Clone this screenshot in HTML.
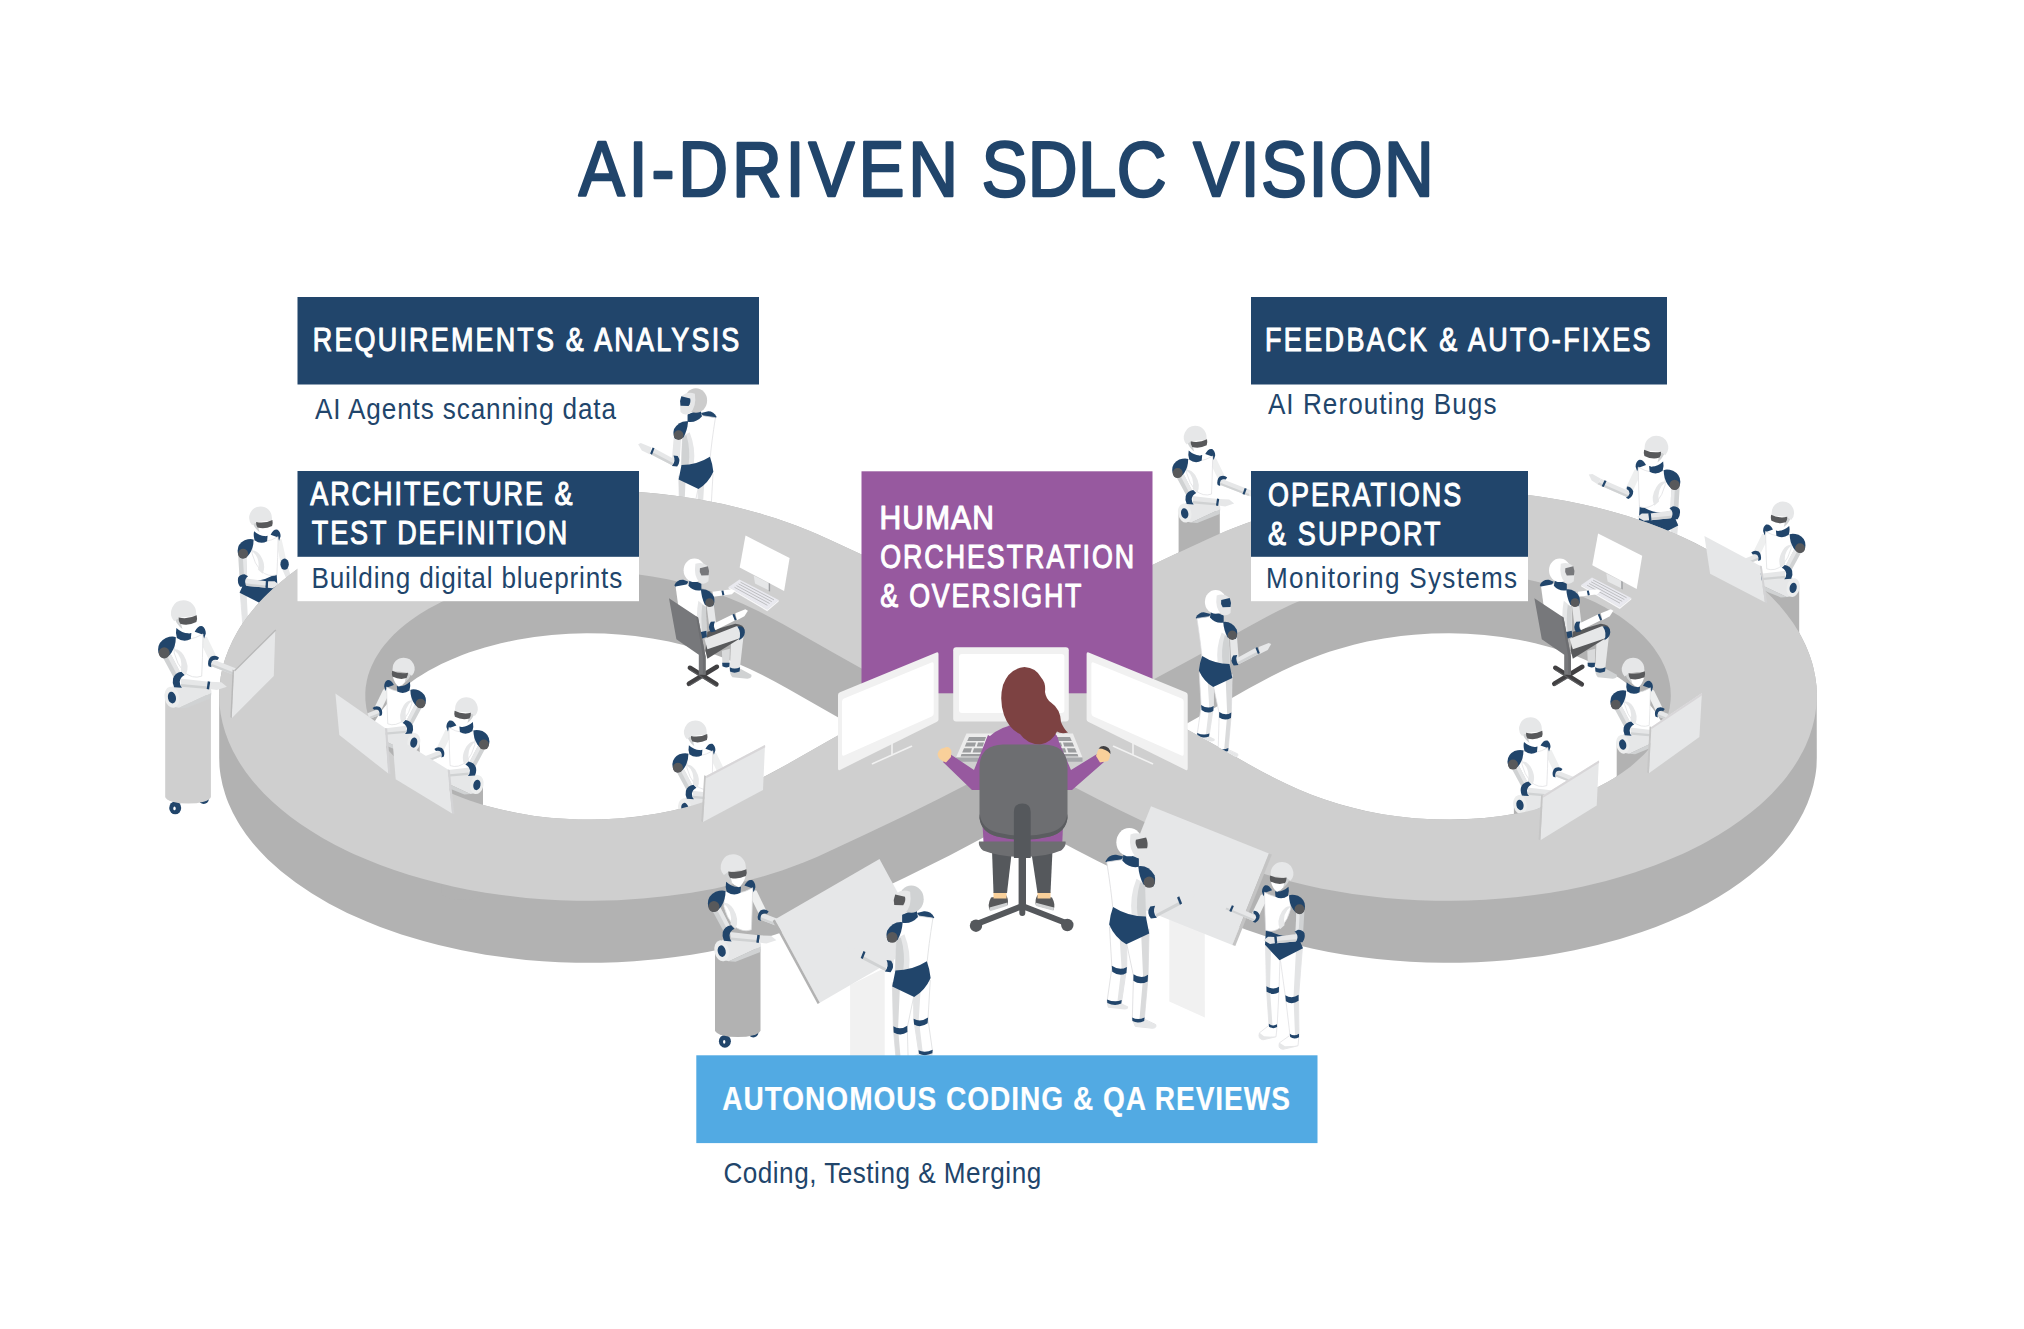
<!DOCTYPE html><html lang="en"><head><meta charset="utf-8"><title>AI-Driven SDLC Vision</title>
<style>html,body{margin:0;padding:0;background:#fff}svg{display:block}text{font-family:"Liberation Sans",Arial,sans-serif}</style></head><body>
<svg width="2024" height="1329" viewBox="0 0 2024 1329">
<rect width="2024" height="1329" fill="#fff"/>
<defs>
<!-- standing robot, 3/4 back view, facing right. origin = head centre -->
<g id="rsBody">
  <!-- far leg -->
  <path d="M-18.5,70 L-4,80 L-4.2,104 L-8.5,133 L-9,137 L-19.5,137 L-20.5,132 L-16.5,104 Z" fill="#fff" stroke="#dcdddf" stroke-width=".7" stroke-linejoin="round"/>
  <path d="M-10,80 L-4,80 L-4.2,104 L-8.5,133 L-12,133 L-8.5,104 Z" fill="#e3e4e5"/>
  <path d="M-16.6,102.5 Q-10,107 -4,103.5 L-4.4,108.5 Q-10,112 -16.2,107.5 Z" fill="#21456b"/>
  <!-- near leg -->
  <path d="M-5,80 L14.5,72 L13.6,112 L10.5,147 L20,151.5 Q21,154.5 17,154.5 L3,153 L0.5,147 L1.5,111 Z" fill="#fff" stroke="#dcdddf" stroke-width=".7" stroke-linejoin="round"/>
  <path d="M8,78 L14.5,72 L13.6,112 L10.5,147 L6.5,147 L9.5,112 Z" fill="#d9dadb"/>
  <path d="M1.5,109.5 Q8,114 13.6,110 L13.3,115.5 Q7,119 1.4,115 Z" fill="#21456b"/>
  <path d="M1,148 L10.5,147.5 L20,151.5 Q21,154.5 17,154.5 L3,153 Z" fill="#e6e7e8"/>
  <path d="M-20.3,133 L-9,133.5 L-3,136.5 Q-2.5,139 -6,139 L-19.5,137.5 Z" fill="#e6e7e8"/>
  <path d="M0.4,145.5 Q5,148 10.7,145.5 L10.4,148.5 Q5,151 0.6,148.6 Z" fill="#21456b"/>
  <path d="M-20.6,130.5 Q-14,133.5 -8.3,131 L-8.7,134 Q-14,136.5 -20.3,133.6 Z" fill="#21456b"/>
  <!-- far shoulder -->
  <path d="M-22,15.5 Q-19,9.5 -13,10 L-7,11.5 L-10,16 L-20,17 Z" fill="#21456b"/>
  <!-- torso -->
  <path d="M-20.8,16 L-7,14 L6,19.5 L11,34 L12,63 L-15.5,57 Q-17,40 -20.8,16 Z" fill="#fff" stroke="#dcdddf" stroke-width=".7" stroke-linejoin="round"/>
  <path d="M4,30 Q-2,45 0,60.5 L12,63 L11,34 Z" fill="#e6e7e8"/>
  <path d="M7,33 Q3,47 5,61.5 L12,63 L11,34 Z" fill="#d0d2d3"/>
  <!-- pelvis -->
  <path d="M-15.5,53.5 Q-3,61.5 11.8,61.5 L14.6,75.5 L-4.5,84.5 Q-14,79 -18.8,68 Q-18,60 -15.5,53.5 Z" fill="#21456b"/>
  <!-- neck -->
  <path d="M-6.5,8 L6,13 L6,20 Q-2,21.5 -7.8,15 Z" fill="#21456b"/>
</g>
<g id="rsHead">
  <ellipse cx="-2" cy="-0.5" rx="10.8" ry="11.8" fill="currentColor"/>
  <path d="M-1,-7 Q6,-9.5 11.5,-5 L13.2,4 L12.8,10.5 Q9,14.5 4,12 Q-3,6 -1,-7 Z" fill="#e6e7e8"/>
  <path d="M3.5,-2.5 L12,-4.5 Q14,0 12.8,4.5 L5,4.8 Q2.5,1 3.5,-2.5 Z" style="fill:var(--v,#21456b)"/>
</g>
<g id="rsArm">
  <!-- near shoulder + arm extended forward -->
  <path d="M12,33 L19,31 L21,56 L13.5,57.5 Z" fill="#e6e7e8"/>
  <path d="M18.5,56 L38.5,45.2 L41,51.5 L20.5,62 Z" fill="#e6e7e8"/>
  <path d="M20,59.5 L40,49 L41,51.5 L20.5,62 Z" fill="#d0d2d3"/>
  <path d="M41,44.5 L51,40.5 L53.5,41.5 L50,47.5 L42,51.5 Z" fill="#e6e7e8"/>
  <path d="M37.8,45.5 L39.6,44.6 L42,50.6 L40.2,51.6 Z" fill="#21456b"/>
  <path d="M15.5,53 Q12,58 16,63 L21,62.5 Q17,58 19.5,52.5 Z" fill="#21456b"/>
  <path d="M5.5,19.5 Q14,18.5 19,27 Q20.5,32 18,36.5 L10,35 Q6,28 5.5,19.5 Z" fill="#21456b"/>
  <circle cx="14.6" cy="32.8" r="4.7" fill="#58595b"/>
</g>
<g id="rs"><use href="#rsBody"/><use href="#rsHead"/><use href="#rsArm"/></g>
<!-- front 3/4 torso robot facing right (pedestal type). origin = head centre -->
<g id="rpFarU">
  <path d="M16,21 L21,21.5 L30,40 L23.5,43.5 L17,30 Z" fill="#eeefef"/>
</g>
<g id="rpFarF">
  <path d="M25.5,41.5 L55,53 L53.5,59 L24,47.5 Z" fill="#e6e7e8"/>
  <path d="M24.5,45.5 L54,57 L53.5,59 L24,47.5 Z" fill="#d0d2d3"/>
  <path d="M55,53 L64,55.5 L66,58.5 L60,60.5 L53.5,59 Z" fill="#e6e7e8"/>
  <path d="M49.5,50.8 L51.5,51.6 L49.3,57.6 L47.3,56.8 Z" fill="#21456b"/>
  <path d="M24.5,39.5 Q29,37.5 32,40.5 L30.5,42.5 Q27.5,41.5 25.5,43.5 Q24,46 25,49 L22.5,48 Q21,43 24.5,39.5 Z" fill="#21456b"/>
</g>
<g id="rpFar"><use href="#rpFarU"/><use href="#rpFarF"/></g>
<g id="rpTorso">
  <!-- far shoulder -->
  <path d="M10,17 Q13,11 17,12 Q20,14 20,18.5 L18.5,23 L17,19.5 Z" fill="#21456b"/>
  <!-- torso -->
  <path d="M-8,22 Q4,27 17.5,19 L17,40 L16.3,57 Q8,60 0,53 Q-6,46 -8.5,36 Z" fill="#fff" stroke="#dcdddf" stroke-width=".7" stroke-linejoin="round"/>
  <path d="M-9,33 Q0,40 -2.5,52 L2,56 Q6,48 0,38 Q-4,32 -9,33 Z" fill="#e6e7e8"/>
  <!-- neck -->
  <path d="M-6.5,13.5 Q0,19.5 7,18 L6.5,23.5 Q0,27 -6,22.5 Q-7.5,18 -6.5,13.5 Z" fill="#21456b"/>
</g>
<g id="rpHead">
  <path d="M-5,6 Q-3,16 5,18.5 Q9,16 11,9 Z" fill="#fff"/>
  <path d="M-8,5 Q-6,11 -1,14.5 Q-3,9 -2,5 Z" fill="#d0d2d3"/>
  <path d="M0,-11.3 A11.3,11.3 0 0 1 11.3,0 L11.5,3 Q4,3 -4.5,4.5 L-8.5,7.5 A11.3,11.3 0 0 1 0,-11.3 Z" fill="currentColor"/>
  <path d="M-4.5,4.2 Q4,6 11.8,2.2 Q12.6,5.5 11.5,8.2 Q4,12 -3,9.8 Q-4.8,7 -4.5,4.2 Z" fill="#58595b"/>
</g>
<g id="rpNear">
  <!-- near upper arm, elbow, forearm across body, hand -->
  <path d="M-21,36 L-13.5,33.5 L-2,55.5 L-8,60 Z" fill="#d0d2d3"/>
  <path d="M-17,34.5 L-13.5,33.5 L-2,55.5 L-5,57.5 Z" fill="#e6e7e8"/>
  <path d="M-3,59 L22.5,62 L22,68.5 L-2,66.5 Z" fill="#e6e7e8"/>
  <path d="M-2.5,64 L22.2,66.2 L22,68.5 L-2,66.5 Z" fill="#d0d2d3"/>
  <path d="M24,62 L34,62.5 L39,66.5 L30,69.5 L23.5,68.5 Z" fill="#e6e7e8"/>
  <path d="M21.8,61.5 L24,62 L23,69 L20.8,68.5 Z" fill="#21456b"/>
  <path d="M-9.5,59 Q-8,54 -2,53 L1,56 Q-3,58 -3.5,62 Q-3.5,65.5 -1.5,67.5 L-8.5,67 Q-10.5,63 -9.5,59 Z" fill="#21456b"/>
  <path d="M-23,33 Q-23,26 -16,22.5 Q-10,20.5 -7,22 Q-7,30 -11,36 Q-14,40.5 -19,40.5 Q-23,38 -23,33 Z" fill="#21456b"/>
  <circle cx="-17.5" cy="36" r="5" fill="#58595b"/>
</g>
<g id="rpRoll">
  <path d="M-10,66 L22,66.5 Q25.5,68 25,72 L-4,85.5 L-12,84 Z" fill="#e6e7e8"/>
  <path d="M25,72 L-4,85.5 L2,86 L24.5,77 Z" fill="#d0d2d3"/>
  <ellipse cx="-10.5" cy="76" rx="6.6" ry="9.6" fill="#eceded" transform="rotate(-12 -10.5 76)"/>
  <ellipse cx="-10.5" cy="76.3" rx="3.6" ry="5.3" fill="#21456b" transform="rotate(-12 -10.5 76.3)"/>
</g>
<g id="rp"><use href="#rpFar"/><use href="#rpTorso"/><use href="#rpHead"/><use href="#rpRoll"/><use href="#rpNear"/></g>
<!-- legs + pelvis for front 3/4 standing robot facing right -->
<g id="rfLegs">
  <path d="M2,84 L16.5,71 L15.5,116 L13,152 L22.5,159.5 Q24.5,165.5 19,166.5 L6,163.5 L4.8,152 L3,117 Z" fill="#fff" stroke="#dcdddf" stroke-width=".7" stroke-linejoin="round"/>
  <path d="M11,76 L16.5,71 L15.5,116 L13,152 L9.5,152 L12,116 Z" fill="#e3e4e5"/>
  <path d="M6,163.5 L19,166.5 Q24.5,165.5 22.5,159.5 L18,163 Z" fill="#e6e7e8"/>
  <path d="M3,113.5 Q9,117 15.6,113 L15.4,118.5 Q9,122.5 3.1,119 Z" fill="#21456b"/>
  <path d="M5,151 Q9,153.5 13.2,150.5 L13,153.5 Q9,156 4.9,153.8 Z" fill="#21456b"/>
  <path d="M-20.5,73 L2,84 L-3.5,124 L-8,162 L2.5,169.5 Q4.5,175.5 -1,176 L-16,172.5 L-17,162 L-16.5,124 Z" fill="#fff" stroke="#dcdddf" stroke-width=".7" stroke-linejoin="round"/>
  <path d="M-20.5,73 L-14,76 L-11.5,124 L-13,162 L-17,162 L-16.5,124 Z" fill="#e3e4e5"/>
  <path d="M-16,172.5 L-1,176 Q4.5,175.5 2.5,169.5 L-3,173 Z" fill="#e6e7e8"/>
  <path d="M-16.6,121.5 Q-10,126 -3.3,122 L-3.9,128 Q-10,132 -16.6,127.5 Z" fill="#21456b"/>
  <path d="M-17,160.5 Q-12,163.5 -7.8,160.5 L-8.2,163.8 Q-12,166.5 -17,164 Z" fill="#21456b"/>
  <path d="M-14,61 Q0,66 16,55.5 L17,71.5 L2.5,87 L-21,75 Q-18,67 -14,61 Z" fill="#21456b"/>
</g>
<g id="rf"><use href="#rpFar"/><use href="#rfLegs"/><use href="#rpTorso"/><use href="#rpHead"/><use href="#rpNear"/></g>
<!-- chair-sitting robot facing right, origin = head centre -->
<g id="rc">
  <!-- chair base -->
  <g stroke="#414042" stroke-width="4.6" stroke-linecap="round"><path d="M-5.5,97 L21,113.5 M21.5,96 L-6.5,113"/></g>
  <path d="M-5.5,99 L21,115.5 M-6.5,115 L7,107" stroke="#6d6e71" stroke-width="1.2" fill="none" opacity=".6"/>
  <!-- far shin -->
  <path d="M26.5,80 L34.5,78 L34,93 L27,93 Z" fill="#d9dadb"/>
  <path d="M26.8,92 L34.2,92 L34,96 Q30,97.5 27,95.5 Z" fill="#21456b"/>
  <!-- near shin + foot -->
  <path d="M36,64 L48.5,62 L44.5,97.5 L34.5,97.5 Z" fill="#e6e7e8"/>
  <path d="M35,99 L45,98 L56,104 Q57,107.5 52,108 L37,106.5 Q34,103 35,99 Z" fill="#d0d2d3"/>
  <path d="M34.3,96.5 Q39,99 44.7,96.5 L44.2,100.8 Q39,103 34.6,100.8 Z" fill="#21456b"/>
  <!-- seat / far thigh dark -->
  <path d="M12,61 L40,53 Q49,53.5 49,60 L44,68 L12,88 L10,80 Z" fill="#58595b"/>
  <!-- near thigh -->
  <path d="M9,68 L41,55.5 Q47,56 47.5,61 Q47.5,66 43,68 L12,78.5 Z" fill="#e6e7e8"/>
  <path d="M42,55.6 Q49.5,55 49.5,61.5 Q49,67 43.5,69.5 Q46.5,62 42,55.6 Z" fill="#21456b"/>
  <!-- far shoulder, torso -->
  <path d="M-21,14.5 Q-18.5,8.5 -12,9 L-7,11 L-10,15.5 L-19.5,16.5 Z" fill="#21456b"/>
  <path d="M-19.8,15.6 L-5,12.9 L6.5,19.6 L10.5,36 L11,64 L4,68 L-17,36 Z" fill="#fff"/>
  <path d="M3,30 Q0,45 3,62 L11,64 L10.5,36 Z" fill="#e6e7e8"/>
  <path d="M7,34 Q5,47 7,63 L11,64 L10.5,36 Z" fill="#d0d2d3"/>
  <path d="M2,62 L11,60 L11.5,66 L4,69 Z" fill="#21456b"/>
  <!-- far forearm -->
  <path d="M17,21 L36,18.5 L40,20 L36.5,23.5 L18,26 Z" fill="#fff"/>
  <path d="M26,20 L28,19.7 L29,24.3 L27,24.6 Z" fill="#21456b"/>
  <!-- neck -->
  <path d="M-5.5,8 L6,13 L6,19.5 Q-2,21 -7,15 Z" fill="#21456b"/>
  <!-- head -->
  <ellipse cx="-1" cy="-0.5" rx="10.8" ry="11.8" fill="#fff"/>
  <path d="M0,-7 Q7,-9.5 12,-5 L13.5,4 L13,10.5 Q9,14.5 4.5,12 Q-2,6 0,-7 Z" fill="#e6e7e8"/>
  <path d="M4.5,-2.5 L12.5,-4.5 Q14.3,0 13.2,4.5 L6,4.8 Q3.5,1 4.5,-2.5 Z" fill="#77787b"/>
  <!-- near arm -->
  <path d="M11,33 L18,31 L21,55 L14,57 Z" fill="#e6e7e8"/>
  <path d="M18,53 L37.5,43.5 L40,49.5 L20,59.5 Z" fill="#fff"/>
  <path d="M40,42.5 L50,38.5 L52.5,40 L49,45.5 L41.5,49.5 Z" fill="#fff"/>
  <path d="M37,43.7 L38.8,42.9 L41.2,48.9 L39.4,49.8 Z" fill="#21456b"/>
  <path d="M15.5,51 Q11.5,56 15.5,61.5 L20.5,60.5 Q17,56.5 19.5,50.8 Z" fill="#21456b"/>
  <path d="M5.5,18.5 Q14,17.5 18.5,26 Q20,31 17.5,35.5 L9.5,34 Q6,27 5.5,18.5 Z" fill="#21456b"/>
  <circle cx="14.2" cy="31.8" r="4.4" fill="#58595b"/>
  <!-- chair back + post -->
  <path d="M-26.4,27.5 L2.7,46.7 L10.2,86 L10.2,104 L3.4,104 L3.4,84 L-19,68.4 Z" fill="#77787b"/>
  <path d="M2.7,46.7 L10.2,86 L10.2,104 L7.5,104 L7.5,86 L0.7,45.4 Z" fill="#6d6e71"/>
</g>
<!-- desk set: monitor + stand + keyboard. origin = monitor top-left -->
<g id="desk">
  <path d="M8.2,40 L23.7,47.8 L23.7,55 L9.5,48 Z" fill="#e6e7e8"/>
  <path d="M23.2,47 L24.6,47.7 L24.6,56 L23.2,55.3 Z" fill="#9b9d9f"/>
  <path d="M0,0 L44.1,22.3 L38.6,55.5 L-5.8,31.8 Z" fill="#fff"/>
  <path d="M-6.1,44 L33.2,64.4 L21.7,73.8 L-16.9,51.4 Z" fill="#e9e9ef"/>
  <path d="M-16.9,51.4 L21.7,73.8 L33.2,64.4 L33.2,66 L21.7,75.6 L-16.9,53 Z" fill="#f6f6f8"/>
  <g stroke="#b9babc" stroke-width="0.9" fill="none"><path d="M-5,46.6 L28.5,64.3 M-7,48.3 L26.3,66.1 M-9,50 L24.1,67.9 M-11,51.7 L21.9,69.7"/></g>
</g>
<g id="rpFarDown">
  <path d="M16,21 L21,21.5 L26,44 L20,46 L17,30 Z" fill="#eeefef"/>
  <path d="M21,50 L27,48 L32,64 L28,66 Z" fill="#e6e7e8"/>
  <ellipse cx="24" cy="46.5" rx="4.2" ry="5.6" fill="#21456b"/>
</g>

<g id="rfNear">
  <path d="M-22.5,36 L-14.5,34.5 L-13.5,60 L-21,61.5 Z" fill="#d0d2d3"/>
  <path d="M-18,35.3 L-14.5,34.5 L-13.5,60 L-16.5,60.6 Z" fill="#e6e7e8"/>
  <path d="M-16,60.5 L6,63.5 L5.5,70 L-16,68 Z" fill="#e6e7e8"/>
  <path d="M-16,65.6 L5.7,67.7 L5.5,70 L-16,68 Z" fill="#d0d2d3"/>
  <path d="M7.5,63.6 L14,63.5 L18.5,67 L12,70.6 L7,70 Z" fill="#e6e7e8"/>
  <path d="M5.3,63.3 L7.5,63.6 L7,70.3 L4.8,70 Z" fill="#21456b"/>
  <path d="M-22.5,60 Q-21,56.5 -16,56.5 L-12.5,58.5 Q-15.5,60.5 -15.5,64 Q-15.5,67 -13.5,69 L-20.5,69 Q-23.5,65 -22.5,60 Z" fill="#21456b"/>
  <path d="M-23,33 Q-23,26 -16,22.5 Q-10,20.5 -7,22 Q-7,30 -11,36 Q-14,40.5 -19,40.5 Q-23,38 -23,33 Z" fill="#21456b"/>
  <circle cx="-17.5" cy="36" r="5" fill="#58595b"/>
</g>
</defs>
<g id="L0">
<use href="#rs" transform="translate(693.8,401) scale(-1.040,1.040)" color="#cccccc"/>
<g transform="translate(260.6,517.7) scale(1.000,1.000)" color="#e6e7e8"><use href="#rpFarDown"/><use href="#rfLegs"/><use href="#rpTorso"/><use href="#rpHead"/><use href="#rfNear"/></g>
<path d="M1178.6,511.1 L1219.8,511.1 L1219.8,613.0 A20.6,7 0 0 1 1178.6,613.0 Z" fill="#b2b2b2"/><g transform="translate(1195.2,437.1) scale(1.000,1.000)" color="#e6e7e8"><use href="#rpFar"/><use href="#rpTorso"/><use href="#rpHead"/><use href="#rpRoll"/><use href="#rpNear"/></g>
<g transform="translate(1656.4,447.4) scale(-1.040,1.040)" color="#e6e7e8"><use href="#rpFarU"/><use href="#rpFarF" transform="rotate(-45 26.5 43.5)"/><use href="#rfLegs"/><use href="#rpTorso"/><use href="#rpHead"/><use href="#rfNear"/></g>
<g transform="translate(3565.6,0) scale(-1,1)"><path d="M1766.4,585.6 L1807.0,585.6 L1807.0,693.0 A20.3,7 0 0 1 1766.4,693.0 Z" fill="#b2b2b2"/></g><g transform="translate(1782.8,512.7) scale(-0.985,0.985)" color="#e6e7e8"><use href="#rpFar"/><use href="#rpTorso"/><use href="#rpHead"/><use href="#rpRoll"/><use href="#rpNear"/></g>
</g>
<path d="M276.6,585.5 267.9,593.4 260.0,601.6 256.2,605.7 249.3,614.2 246.1,618.4 240.2,627.1 237.5,631.5 232.7,640.4 228.6,649.4 225.2,658.5 223.8,663.1 221.5,672.3 220.7,676.9 219.5,686.1 219.2,695.4 219.2,757.4 219.5,766.7 220.0,771.3 220.7,776.0 222.6,785.2 225.2,794.3 226.8,798.9 228.6,803.4 232.7,812.4 237.5,821.3 240.2,825.7 246.1,834.4 252.7,842.9 256.2,847.1 260.0,851.3 267.9,859.4 281.1,871.3 295.7,882.6 311.6,893.3 328.8,903.5 347.2,912.9 366.7,921.6 380.2,927.0 401.4,934.5 423.4,941.1 438.5,945.1 461.7,950.3 485.5,954.7 509.8,958.1 526.1,959.9 542.6,961.2 559.3,962.2 575.9,962.7 601.0,962.7 617.6,962.2 634.2,961.2 659.0,959.0 675.3,957.1 691.4,954.7 707.3,951.9 723.0,948.7 738.4,945.1 753.5,941.2 775.5,934.6 789.7,929.7 803.5,924.4 823.1,916.1 857.9,900.0 905.7,877.3 949.5,855.4 987.2,835.4 1018.0,817.9 1033.1,826.7 1054.1,838.3 1075.7,849.8 1097.5,861.0 1146.5,885.1 1198.2,909.4 1225.8,921.7 1246.3,929.7 1267.7,936.9 1290.0,943.2 1313.0,948.7 1328.7,951.9 1344.6,954.7 1360.7,957.1 1377.0,959.0 1393.5,960.6 1410.1,961.8 1426.7,962.5 1443.4,962.8 1460.1,962.7 1476.7,962.2 1493.4,961.2 1509.9,959.9 1526.2,958.1 1542.5,955.9 1558.5,953.3 1574.3,950.3 1597.5,945.1 1620.0,939.0 1641.8,932.1 1655.8,927.0 1669.3,921.6 1688.8,912.9 1707.2,903.5 1718.8,896.8 1729.9,889.8 1740.3,882.6 1750.2,875.1 1763.8,863.4 1772.1,855.4 1776.0,851.3 1783.3,842.9 1789.9,834.4 1793.0,830.1 1798.5,821.3 1803.3,812.4 1807.4,803.4 1810.8,794.3 1813.4,785.2 1815.3,776.0 1816.0,771.3 1816.5,766.7 1816.8,757.4 1816.7,690.8 1816.5,686.1 1815.3,676.9 1813.4,667.7 1812.2,663.1 1809.2,653.9 1805.5,644.9 1801.0,635.9 1795.8,627.1 1789.9,618.4 1783.3,609.9 1776.0,601.6 1768.1,593.4 1754.9,581.6 1745.3,574.0 1735.2,566.6 1724.4,559.5 1707.2,549.4 1695.1,543.0 1682.4,536.9 1662.6,528.5 1648.8,523.2 1627.4,516.0 1612.6,511.7 1597.5,507.7 1582.1,504.2 1566.4,501.0 1542.5,496.9 1526.2,494.8 1509.9,493.0 1493.4,491.6 1476.7,490.7 1460.1,490.1 1435.0,490.1 1418.4,490.7 1401.8,491.6 1385.3,493.0 1368.9,494.7 1352.6,496.9 1336.6,499.5 1313.0,504.1 1297.6,507.7 1282.5,511.6 1260.5,518.3 1246.3,523.2 1232.5,528.4 1212.9,536.7 1178.1,552.8 1130.3,575.6 1086.5,597.4 1048.8,617.4 1018.0,634.9 997.7,623.2 971.2,608.8 944.0,594.6 916.6,580.9 878.8,562.6 832.9,541.2 816.9,534.0 796.7,525.7 775.5,518.3 760.9,513.8 738.4,507.7 723.0,504.1 699.4,499.5 675.3,495.8 659.0,493.8 634.2,491.6 609.3,490.3 584.3,490.0 559.3,490.7 534.4,492.2 509.8,494.8 493.5,496.9 477.5,499.5 453.9,504.2 430.9,509.7 408.6,516.0 387.2,523.2 366.7,531.2 347.2,539.9 328.8,549.4 311.6,559.5 300.8,566.6 290.7,574.0Z" fill="#b2b2b2"/>
<path d="M372.3,726.4 375.0,731.7 377.8,736.4 380.8,741.0 384.2,745.5 388.0,750.0 392.0,754.4 396.4,758.6 401.0,762.8 405.9,766.9 411.2,770.8 416.7,774.7 422.5,778.4 428.5,782.0 438.0,787.1 451.5,793.5 462.2,797.8 469.6,800.5 484.9,805.4 500.9,809.6 517.4,813.1 534.3,815.9 551.6,817.9 569.2,819.1 578.0,819.4 591.2,819.6 604.5,819.3 622.0,818.2 639.4,816.3 656.4,813.7 673.0,810.4 687.5,806.8 702.1,802.5 715.8,797.9 728.9,793.0 741.6,787.6 754.0,781.8 766.4,775.6 787.4,764.2 833.0,738.2 854.3,726.4 833.0,714.6 787.4,688.6 774.7,681.6 762.3,675.1 749.9,669.0 737.4,663.4 724.6,658.2 711.3,653.3 697.3,648.9 682.3,644.7 668.9,641.6 652.2,638.4 635.1,636.0 622.0,634.7 604.5,633.6 586.8,633.3 569.2,633.7 551.6,635.0 534.3,637.0 517.4,639.7 500.9,643.2 484.9,647.4 469.6,652.3 462.2,655.0 451.5,659.4 441.3,664.1 434.8,667.4 428.5,670.8 422.5,674.4 416.7,678.1 411.2,682.0 405.9,686.0 401.0,690.0 396.4,694.2 392.0,698.5 388.0,702.8 382.5,709.6 379.3,714.1 375.0,721.1Z" fill="#fff"/>
<path d="M1181.7,726.4 1203.0,738.2 1248.6,764.2 1261.3,771.2 1273.7,777.7 1286.1,783.8 1298.6,789.5 1311.4,794.7 1324.7,799.5 1338.7,804.0 1353.7,808.1 1367.1,811.3 1383.8,814.4 1396.6,816.3 1414.0,818.2 1431.5,819.3 1449.2,819.6 1466.8,819.1 1484.4,817.9 1501.7,815.9 1518.6,813.1 1535.1,809.6 1543.2,807.6 1555.0,804.2 1570.1,799.2 1584.5,793.5 1598.0,787.1 1607.5,782.0 1613.5,778.4 1619.3,774.7 1624.8,770.8 1630.1,766.9 1635.0,762.8 1639.6,758.6 1644.0,754.4 1648.0,750.0 1651.8,745.5 1655.2,741.0 1658.2,736.4 1661.0,731.7 1663.7,726.4 1661.0,721.1 1658.2,716.4 1655.2,711.8 1651.8,707.3 1648.0,702.8 1644.0,698.5 1639.6,694.2 1635.0,690.0 1630.1,686.0 1624.8,682.0 1619.3,678.1 1613.5,674.4 1607.5,670.8 1601.2,667.4 1594.7,664.1 1584.5,659.4 1573.8,655.0 1566.4,652.3 1551.1,647.4 1535.1,643.2 1518.6,639.7 1501.7,637.0 1484.4,635.0 1466.8,633.7 1449.2,633.3 1431.5,633.6 1414.0,634.7 1400.9,636.0 1383.8,638.4 1367.1,641.6 1353.7,644.7 1338.7,648.9 1329.3,651.8 1320.2,654.9 1307.1,659.9 1294.4,665.2 1282.0,671.0 1269.6,677.2 1248.6,688.6 1203.0,714.6Z" fill="#fff"/>
<g id="L2">
<g transform="translate(807.2,0) scale(-1,1)"><path d="M387.5,740.4 L427.5,740.4 L427.5,853.0 A20.0,7 0 0 1 387.5,853.0 Z" fill="#b2b2b2"/></g><g transform="translate(403.6,668.6) scale(-0.970,0.970)" color="#e6e7e8"><use href="#rpFar"/><use href="#rpTorso"/><use href="#rpHead"/><use href="#rpRoll"/><use href="#rpNear"/></g>
<g transform="translate(932.8,0) scale(-1,1)"><path d="M449.8,782.6 L491.0,782.6 L491.0,893.0 A20.6,7 0 0 1 449.8,893.0 Z" fill="#b2b2b2"/></g><g transform="translate(466.4,708.6) scale(-1.000,1.000)" color="#e6e7e8"><use href="#rpFar"/><use href="#rpTorso"/><use href="#rpHead"/><use href="#rpRoll"/><use href="#rpNear"/></g>
<path d="M678.8,805.8 L720.0,805.8 L720.0,893.0 A20.6,7 0 0 1 678.8,893.0 Z" fill="#b2b2b2"/><g transform="translate(695.4,731.8) scale(1.000,1.000)" color="#e6e7e8"><use href="#rpFar"/><use href="#rpTorso"/><use href="#rpHead"/><use href="#rpRoll"/><use href="#rpNear"/></g>
<path d="M1616.7,742.3 L1657.5,742.3 L1657.5,853.0 A20.4,7 0 0 1 1616.7,853.0 Z" fill="#b2b2b2"/><g transform="translate(1633.1,669) scale(0.990,0.990)" color="#e6e7e8"><use href="#rpFar"/><use href="#rpTorso"/><use href="#rpHead"/><use href="#rpRoll"/><use href="#rpNear"/></g>
<path d="M1513.9,802.6 L1555.1,802.6 L1555.1,893.0 A20.6,7 0 0 1 1513.9,893.0 Z" fill="#b2b2b2"/><g transform="translate(1530.5,728.6) scale(1.000,1.000)" color="#e6e7e8"><use href="#rpFar"/><use href="#rpTorso"/><use href="#rpHead"/><use href="#rpRoll"/><use href="#rpNear"/></g>
</g>
<path d="M1018.0,634.9 1002.9,626.2 987.2,617.4 954.9,600.2 916.6,580.9 873.5,560.1 828.1,539.1 810.2,531.1 789.7,523.2 775.5,518.3 760.9,513.8 738.4,507.7 723.0,504.1 707.3,500.9 691.4,498.1 675.3,495.8 650.7,493.0 625.9,491.1 609.3,490.3 592.6,490.0 575.9,490.1 559.3,490.7 534.4,492.2 517.9,493.8 501.6,495.8 485.5,498.2 469.6,501.0 453.9,504.2 438.5,507.7 423.4,511.7 401.4,518.3 387.2,523.2 373.4,528.5 360.1,534.0 347.2,539.9 334.8,546.2 322.9,552.7 311.6,559.5 300.8,566.6 290.7,574.0 281.1,581.6 272.2,589.4 263.9,597.5 256.2,605.7 249.3,614.2 243.0,622.8 237.5,631.5 232.7,640.4 228.6,649.4 225.2,658.5 222.6,667.7 220.7,676.9 219.5,686.1 219.2,695.4 219.5,704.7 220.7,714.0 222.6,723.2 225.2,732.3 228.6,741.4 232.7,750.4 237.5,759.3 240.2,763.7 246.1,772.4 252.7,780.9 260.0,789.3 263.9,793.4 272.2,801.4 281.1,809.3 290.7,816.9 300.8,824.2 311.6,831.3 322.9,838.2 334.8,844.7 347.2,850.9 353.6,853.9 366.7,859.6 380.2,865.0 394.2,870.1 408.6,874.8 423.4,879.1 438.5,883.1 453.9,886.7 469.6,889.9 485.5,892.7 501.6,895.0 526.1,897.9 542.6,899.2 559.3,900.2 575.9,900.7 592.6,900.8 617.6,900.2 642.5,898.6 667.1,896.1 691.4,892.7 715.2,888.4 738.4,883.1 760.9,877.1 782.7,870.2 803.5,862.4 816.9,856.9 863.0,835.6 905.7,815.3 938.5,799.0 965.8,784.9 992.5,770.5 1018.0,755.9 1033.1,764.7 1054.1,776.3 1075.7,787.8 1097.5,799.0 1119.4,809.9 1146.5,823.1 1198.2,847.4 1212.9,854.1 1225.8,859.7 1246.3,867.7 1267.7,874.9 1290.0,881.2 1305.3,885.0 1320.8,888.4 1336.6,891.3 1352.6,893.9 1368.9,896.1 1385.3,897.9 1401.8,899.2 1418.4,900.2 1435.0,900.7 1451.7,900.8 1468.4,900.5 1485.1,899.7 1501.6,898.6 1518.1,897.0 1534.4,895.0 1550.5,892.7 1566.4,889.9 1582.1,886.7 1605.1,881.2 1620.0,877.0 1634.6,872.5 1655.8,865.0 1669.3,859.6 1682.4,853.9 1688.8,850.9 1701.2,844.7 1707.2,841.5 1718.8,834.8 1729.9,827.8 1740.3,820.6 1750.2,813.1 1759.4,805.4 1763.8,801.4 1772.1,793.4 1779.8,785.1 1783.3,780.9 1786.7,776.7 1793.0,768.1 1798.5,759.3 1803.3,750.4 1805.5,746.0 1809.2,736.9 1812.2,727.8 1814.5,718.6 1815.3,714.0 1816.5,704.7 1816.8,695.4 1816.5,686.1 1815.3,676.9 1813.4,667.7 1810.8,658.5 1807.4,649.4 1803.3,640.4 1798.5,631.5 1793.0,622.8 1786.7,614.2 1779.8,605.7 1772.1,597.5 1763.8,589.4 1754.9,581.6 1745.3,574.0 1735.2,566.6 1724.4,559.5 1713.1,552.7 1701.2,546.2 1688.8,539.9 1675.9,534.0 1662.6,528.5 1648.8,523.2 1627.4,516.0 1612.6,511.7 1597.5,507.7 1582.1,504.2 1566.4,501.0 1550.5,498.2 1534.4,495.8 1518.1,493.8 1501.6,492.2 1476.7,490.7 1460.1,490.1 1443.4,490.0 1426.7,490.3 1410.1,491.1 1385.3,493.0 1360.7,495.8 1344.6,498.1 1328.7,500.9 1313.0,504.1 1297.6,507.7 1275.1,513.8 1260.5,518.3 1246.3,523.2 1225.8,531.1 1207.9,539.1 1162.5,560.1 1119.4,580.9 1081.1,600.2 1048.8,617.4 1033.1,626.2ZM858.8,666.9 912.4,695.4 848.2,729.7 828.1,741.0 791.7,761.8 774.7,771.2 762.3,777.7 754.0,781.8 741.6,787.6 733.1,791.2 720.2,796.3 706.7,801.0 692.4,805.4 677.1,809.4 660.6,812.9 647.9,815.1 635.1,816.9 617.6,818.5 604.5,819.3 595.6,819.5 582.4,819.5 569.2,819.1 560.4,818.6 547.3,817.4 534.3,815.9 525.8,814.6 513.2,812.3 500.9,809.6 492.8,807.6 481.0,804.2 469.6,800.5 462.2,797.8 451.5,793.5 444.6,790.4 438.0,787.1 428.5,782.0 422.5,778.4 413.9,772.8 405.9,766.9 401.0,762.8 394.1,756.5 388.0,750.0 382.5,743.3 379.3,738.7 376.3,734.1 372.6,727.0 369.6,719.8 367.4,712.6 366.3,707.7 365.4,700.3 365.3,693.0 365.6,688.1 366.8,680.7 368.0,675.8 369.6,671.0 371.5,666.2 375.0,659.1 377.8,654.4 380.8,649.8 384.2,645.3 389.9,638.7 394.1,634.3 401.0,628.0 405.9,624.0 411.2,620.0 419.5,614.3 428.5,608.8 434.8,605.4 441.3,602.1 451.5,597.4 462.2,593.0 469.6,590.3 484.9,585.4 500.9,581.2 513.2,578.5 521.6,577.0 534.3,575.0 542.9,573.9 560.4,572.2 578.0,571.4 586.8,571.3 600.0,571.4 617.6,572.3 635.1,574.0 652.2,576.4 668.9,579.6 687.5,584.1 702.1,588.3 715.8,592.9 728.9,597.9 741.6,603.2 758.1,611.0 770.6,617.4 783.2,624.2 833.0,652.6ZM1123.6,695.4 1187.8,661.1 1207.9,649.9 1244.3,629.0 1265.4,617.4 1277.9,611.0 1290.3,605.1 1302.9,599.6 1311.4,596.2 1320.2,592.9 1329.3,589.8 1343.6,585.4 1353.7,582.7 1363.0,580.5 1379.6,577.1 1396.6,574.5 1414.0,572.7 1431.5,571.6 1449.2,571.3 1462.4,571.5 1471.2,572.0 1480.0,572.6 1493.1,573.9 1501.7,575.0 1514.4,577.0 1522.8,578.5 1535.1,581.2 1547.2,584.3 1555.0,586.6 1562.6,589.1 1573.8,593.0 1587.9,598.9 1594.7,602.1 1604.4,607.1 1613.5,612.4 1619.3,616.1 1624.8,620.0 1632.6,626.0 1639.6,632.2 1644.0,636.5 1649.9,643.1 1653.5,647.6 1658.2,654.4 1661.0,659.1 1664.5,666.2 1666.4,671.0 1668.0,675.8 1669.7,683.2 1670.4,688.1 1670.8,695.4 1670.6,700.3 1669.7,707.7 1668.6,712.6 1666.4,719.8 1663.4,727.0 1661.0,731.7 1656.7,738.7 1653.5,743.3 1648.0,750.0 1644.0,754.4 1639.6,758.6 1635.0,762.8 1630.1,766.9 1622.1,772.8 1613.5,778.4 1607.5,782.0 1598.0,787.1 1591.4,790.4 1584.5,793.5 1573.8,797.8 1566.4,800.5 1555.0,804.2 1543.2,807.6 1535.1,809.6 1526.9,811.5 1514.4,813.9 1505.9,815.2 1493.1,817.0 1484.4,817.9 1471.2,818.9 1458.0,819.4 1449.2,819.6 1431.5,819.3 1414.0,818.2 1396.6,816.3 1379.6,813.7 1363.0,810.4 1353.7,808.1 1343.6,805.4 1329.3,801.0 1320.2,797.9 1311.4,794.7 1302.9,791.2 1290.3,785.7 1277.9,779.8 1265.4,773.4 1244.3,761.8 1207.9,741.0 1187.8,729.7Z" fill="#cfcfcf" fill-rule="evenodd"/>
<g id="L4">
<path d="M335.4,693.6 385.0,727.9 388.3,773.6 339.3,735.0Z" fill="#e6e7e8"/><path d="M385.0,727.9 388.3,773.6 390.5,774.3 387.2,728.6Z" fill="#d3d3d5"/>
<path d="M392.1,735.0 447.6,769.3 452.1,813.6 395.7,779.3Z" fill="#e6e7e8"/><path d="M447.6,769.3 452.1,813.6 454.3,814.3 449.8,770.0Z" fill="#d3d3d5"/>
<path d="M1704.4,535.9 1759.6,565.4 1764.9,602.2 1710.1,573.8Z" fill="#e6e7e8"/><path d="M1759.6,565.4 1764.9,602.2 1767.1,602.9 1761.8,566.1Z" fill="#d3d3d5"/>
<use href="#desk" transform="translate(745.5,535.6) scale(1.000,1.000)" color="#fff"/>
<use href="#rc" transform="translate(695.4,570.8) scale(1.000,1.000)" color="#fff"/>
<use href="#desk" transform="translate(1598.1,533.5) scale(1.000,1.000)" color="#fff"/>
<use href="#rc" transform="translate(1560.8,570.8) scale(1.000,1.000)" color="#fff"/>
</g>

<path d="M765.0,745.0 763.0,790.0 703.0,822.0 706.0,776.0Z" fill="#e6e7e8"/>
<path d="M706.0,776.0 765.0,745.0 765.3,747.2 706.3,778.2Z" fill="#d8d6d8"/>
<path d="M706.0,776.0 703.0,822.0 701.2,821.3 704.2,775.3Z" fill="#c6c6c6"/>
<path d="M1598.9,760.5 1596.7,805.6 1540.4,840.3 1542.9,795.6Z" fill="#e6e7e8"/>
<path d="M1542.9,795.6 1598.9,760.5 1599.2,762.7 1543.2,797.8Z" fill="#d8d6d8"/>
<path d="M1542.9,795.6 1540.4,840.3 1538.6,839.6 1541.1,794.9Z" fill="#c6c6c6"/>
<path d="M1701.9,693.0 1699.4,736.9 1648.9,773.3 1651.4,726.9Z" fill="#e6e7e8"/>
<path d="M1651.4,726.9 1701.9,693.0 1702.2,695.2 1651.7,729.1Z" fill="#d8d6d8"/>
<path d="M1651.4,726.9 1648.9,773.3 1647.1,772.6 1649.6,726.2Z" fill="#c6c6c6"/>
<rect x="297.5" y="297" width="461.5" height="87.5" fill="#21456b"/>
<rect x="297.5" y="471" width="341.5" height="86" fill="#21456b"/>
<rect x="297.5" y="556.8" width="341.5" height="44.4" fill="#fff"/>
<rect x="1251" y="297" width="416" height="87.5" fill="#21456b"/>
<rect x="1251" y="471" width="277" height="86" fill="#21456b"/>
<rect x="1251" y="556.8" width="277" height="44.4" fill="#fff"/>
<rect x="861.5" y="471.3" width="291" height="222" fill="#97599f"/>
<text transform="translate(312.80,350.85) scale(0.82,1)" font-size="32.85" font-weight="normal" fill="#fff" letter-spacing="2.694" stroke="#fff" stroke-width="1.1" stroke-linejoin="round">REQUIREMENTS &amp; ANALYSIS</text>
<text transform="translate(314.90,418.9) scale(0.86,1)" font-size="30.38" font-weight="normal" fill="#21456b" letter-spacing="1.025">AI Agents scanning data</text>
<text transform="translate(310.20,505.2) scale(0.82,1)" font-size="32.85" font-weight="normal" fill="#fff" letter-spacing="2.430" stroke="#fff" stroke-width="1.1" stroke-linejoin="round">ARCHITECTURE &amp;</text>
<text transform="translate(311.80,544.2) scale(0.82,1)" font-size="32.85" font-weight="normal" fill="#fff" letter-spacing="2.352" stroke="#fff" stroke-width="1.1" stroke-linejoin="round">TEST DEFINITION</text>
<text transform="translate(311.40,587.9) scale(0.86,1)" font-size="30.38" font-weight="normal" fill="#21456b" letter-spacing="0.979">Building digital blueprints</text>
<text transform="translate(1265.00,350.6) scale(0.82,1)" font-size="32.85" font-weight="normal" fill="#fff" letter-spacing="2.927" stroke="#fff" stroke-width="1.1" stroke-linejoin="round">FEEDBACK &amp; AUTO-FIXES</text>
<text transform="translate(1267.90,414.3) scale(0.86,1)" font-size="30.38" font-weight="normal" fill="#21456b" letter-spacing="1.206">AI Rerouting Bugs</text>
<text transform="translate(1268.00,505.6) scale(0.82,1)" font-size="32.85" font-weight="normal" fill="#fff" letter-spacing="2.534" stroke="#fff" stroke-width="1.1" stroke-linejoin="round">OPERATIONS</text>
<text transform="translate(1268.00,545.1) scale(0.82,1)" font-size="32.85" font-weight="normal" fill="#fff" letter-spacing="2.652" stroke="#fff" stroke-width="1.1" stroke-linejoin="round">&amp; SUPPORT</text>
<text transform="translate(1266.00,587.9) scale(0.86,1)" font-size="30.38" font-weight="normal" fill="#21456b" letter-spacing="1.484">Monitoring Systems</text>
<text transform="translate(879.60,528.75) scale(0.92,1)" font-size="32.70" font-weight="normal" fill="#fff" letter-spacing="1.087" stroke="#fff" stroke-width="1.1" stroke-linejoin="round">HUMAN</text>
<text transform="translate(880.20,567.65) scale(0.82,1)" font-size="32.70" font-weight="normal" fill="#fff" letter-spacing="2.409" stroke="#fff" stroke-width="1.1" stroke-linejoin="round">ORCHESTRATION</text>
<text transform="translate(880.30,606.65) scale(0.82,1)" font-size="32.70" font-weight="normal" fill="#fff" letter-spacing="2.195" stroke="#fff" stroke-width="1.1" stroke-linejoin="round">&amp; OVERSIGHT</text>
<g id="L5">
<clipPath id="c12"><path d="M1100,500 L1400,500 L1400,851.2 L1100,679.1 Z"/></clipPath>
<g clip-path="url(#c12)"><use href="#rs" transform="translate(1217.7,602.4) scale(1.000,1.000)" color="#fff"/></g>
<!-- operator desk: three monitors, keyboard, human, chair -->
<g id="opdesk">
  <!-- monitor stands -->
  <g stroke="#f1f1f1" stroke-width="1.6" fill="none" stroke-linecap="round"><path d="M892,742 L892,755 M872.5,763.7 L911.5,746.3"/><path d="M1133,742 L1133,755 M1152.5,763.7 L1113.5,746.3"/></g>
  <!-- left monitor -->
  <path d="M840,692.2 L936.5,652.5 Q938.5,651.8 938.5,654 L938.5,719.5 Q938.5,721 937,721.8 L840,769.9 Q838,770.8 838,768.6 L838,695 Q838,693 840,692.2 Z" fill="#f1f1f1"/>
  <path d="M844,698.5 L931.5,662.5 Q933.7,661.6 933.7,664 L933.7,713.5 Q933.7,715.5 931.7,716.5 L844.2,755.4 Q842,756.4 842,754 L842,701.5 Q842,699.3 844,698.5 Z" fill="#fff"/>
  <!-- centre monitor -->
  <rect x="953.2" y="647.3" width="115.6" height="74.2" rx="3" fill="#f1f1f1"/>
  <rect x="959" y="654" width="105.4" height="59" rx="3" fill="#fff"/>
  <!-- right monitor -->
  <path d="M1185.7,692.2 L1088.6,652.5 Q1086.6,651.8 1086.6,654 L1086.6,719.5 Q1086.6,721 1088.1,721.8 L1185.7,769.9 Q1187.7,770.8 1187.7,768.6 L1187.7,695 Q1187.7,693 1185.7,692.2 Z" fill="#f1f1f1"/>
  <path d="M1181.7,698.5 L1093.6,662.5 Q1091.4,661.6 1091.4,664 L1091.4,713.5 Q1091.4,715.5 1093.4,716.5 L1181.5,755.4 Q1183.7,756.4 1183.7,754 L1183.7,701.5 Q1183.7,699.3 1181.7,698.5 Z" fill="#fff"/>
  <!-- keyboard -->
  <path d="M966.4,733.5 L1072.9,733.5 L1082.5,757.6 L956,757.6 Z" fill="#ececec"/>
  <path d="M956,757.6 L1082.5,757.6 L1082.5,761.7 L956,761.7 Z" fill="#a7a9ac"/>
  <g fill="#9b9d9f">
    <path d="M969,737 L986,737 L984.6,741 L967.2,741 Z M966.5,742.6 L976,742.6 L974.8,746.6 L964.8,746.6 Z M978,742.6 L984,742.6 L982.8,746.6 L976.8,746.6 Z M964,748.2 L972,748.2 L970.6,752.4 L962.2,752.4 Z M974,748.2 L983,748.2 L981.6,752.4 L972.6,752.4 Z M961.5,754 L981,754 L980.4,756.4 L960.6,756.4 Z"/>
    <path d="M1053,737 L1070,737 L1071.8,741 L1054.4,741 Z M1055,742.6 L1061,742.6 L1062.2,746.6 L1056.2,746.6 Z M1063,742.6 L1072.5,742.6 L1074.2,746.6 L1064.2,746.6 Z M1056.5,748.2 L1065,748.2 L1066.4,752.4 L1057.9,752.4 Z M1067,748.2 L1075,748.2 L1076.8,752.4 L1068.4,752.4 Z M1058,754 L1077.5,754 L1078.4,756.4 L1058.6,756.4 Z"/>
  </g>
</g>
<g id="human">
  <!-- chair base -->
  <g stroke="#55585c" stroke-linecap="round" fill="none"><path d="M1022.3,856 L1022.3,905" stroke-width="7.4"/><path d="M1022.3,906 L978,923.5 M1022.3,906 L1066,923 M1022.3,906 L1022.3,913" stroke-width="6"/></g>
  <circle cx="976" cy="925.7" r="6.2" fill="#55585c"/><circle cx="1067.3" cy="925" r="6.2" fill="#55585c"/>
  <!-- feet -->
  <path d="M991,897.5 L1006,895 Q1009,900 1007.5,905 L990,910.5 Q987,905 991,897.5 Z" fill="#58595b"/>
  <path d="M989.5,907.5 L1007.5,902.5 L1007.5,905.8 L990,911.3 Z" fill="#d0d2d3"/>
  <path d="M1037.5,895 L1052,897.5 Q1056,905 1053.5,910 L1036,905.5 Q1034.5,900 1037.5,895 Z" fill="#58595b"/>
  <path d="M1036,902.8 L1054,907.5 L1053.5,910.8 L1036,906 Z" fill="#d0d2d3"/>
  <rect x="993.5" y="892" width="13" height="6.5" fill="#f9d09a"/><rect x="1037.5" y="892" width="13" height="6.5" fill="#f9d09a"/>
  <!-- legs -->
  <path d="M992,850 L1012,850 L1007,893 L993.5,893 Z" fill="#55585c"/>
  <path d="M1031,850 L1052.5,850 L1050.5,893 L1037.5,893 Z" fill="#55585c"/>
  <!-- arms -->
  <path d="M988,735 L1000,742 L980,790 L972,790 L943,762 L950,754 L974,770 Z" fill="#97599f"/>
  <path d="M1056,735 L1044,742 L1064,790 L1072,790 L1104,762 L1097,754 L1071,770 Z" fill="#97599f"/>
  <!-- hands -->
  <path d="M944,748 Q949,745 951.5,751 L951,757 L946,762.5 Q938,760 937.5,754 Q939,748.5 944,748 Z" fill="#f9d09a"/>
  <path d="M1098,750 Q1103,745 1108,749 Q1112,755 1108,761 L1100,762.5 L1096,756 Z" fill="#f9d09a"/>
  <path d="M1098.5,748.5 Q1103,744 1108.5,748 Q1111,751 1110.5,754 Q1106,748.5 1098.5,748.5 Z" fill="#414042"/>
  <!-- torso -->
  <path d="M990,736 Q1005,723 1030,723 Q1052,725 1058,738 L1064,800 L1062,850 Q1024,858 984,850 L981,800 Z" fill="#97599f"/>
  <!-- hair -->
  <path d="M1024.5,667 Q1036,667.5 1041.5,678 Q1046,683 1045,692 Q1046,699 1051,702.5 Q1060.5,709 1061,722 Q1064,729.5 1068,732.5 Q1061.5,734.5 1057,731.5 Q1052,742.5 1040,744.5 Q1027,744 1020,734 Q1009,729 1004,715 Q999,700 1003,685 Q1009,668.5 1024.5,667 Z" fill="#7d4242"/>
  <!-- seat -->
  <path d="M979,841.5 Q978,846 983,850.5 Q1000,857 1022,857 Q1046,857 1061,850.5 Q1066.5,846 1065.5,841.5 Z" fill="#6d6e71"/>
  <!-- chair back -->
  <path d="M979.5,768 Q979.5,745 1003,744.5 L1044,744.5 Q1067.5,745 1067.5,768 L1067.5,818 Q1066,832 1050,836.5 Q1024,843 997,836.5 Q981,832 979.5,818 Z" fill="#6d6e71"/>
  <path d="M979.8,814 Q981,828 997,832.5 Q1024,839 1050,832.5 Q1066,828 1067.2,814 L1067.5,818 Q1066,832 1050,836.5 Q1024,843 997,836.5 Q981,832 979.5,818 Z" fill="#5b5d60"/>
  <path d="M1013.9,812 Q1013.9,803.5 1022.3,803.5 Q1030.7,803.5 1030.7,812 L1030.7,858 L1013.9,858 Z" fill="#55585c"/>
</g>

<ellipse cx="175.2" cy="807.9" rx="6.0" ry="6.4" fill="#21456b"/><ellipse cx="174.5" cy="808.4" rx="1.2" ry="1.9" fill="#fff"/><ellipse cx="203.7" cy="799.0" rx="5.1" ry="5.1" fill="#21456b"/><path d="M165.2,695.0 L210.9,695.0 L210.9,797.0 A22.9,7 0 0 1 165.2,797.0 Z" fill="#cfcfcf"/><g transform="translate(183.6,612.9) scale(1.110,1.110)" color="#e6e7e8"><use href="#rpFar"/><use href="#rpTorso"/><use href="#rpHead"/><use href="#rpRoll"/><use href="#rpNear"/></g>
<path d="M275.3,629.2 273.8,675.9 231.7,718.2 234.0,670.2Z" fill="#e6e7e8"/>
<path d="M234.0,670.2 275.3,629.2 276.2,630.4 234.9,671.6Z" fill="#b9b9b9"/>
<path d="M234.0,670.2 231.7,718.2 230.4,717.0 232.6,669.4Z" fill="#b9b9b9"/>
<path d="M850.1,985.0 884.7,968.0 884.7,1060.0 850.1,1060.0Z" fill="#f1f1f1"/>
<ellipse cx="724.9" cy="1041.3" rx="6.0" ry="6.4" fill="#21456b"/><ellipse cx="724.2" cy="1041.8" rx="1.2" ry="1.9" fill="#fff"/><ellipse cx="753.3" cy="1032.5" rx="5.1" ry="5.1" fill="#21456b"/><path d="M715.0,948.6 L760.5,948.6 L760.5,1030.5 A22.8,7 0 0 1 715.0,1030.5 Z" fill="#b2b2b2"/><g transform="translate(733.3,866.8) scale(1.105,1.105)" color="#e6e7e8"><use href="#rpFar"/><use href="#rpTorso"/><use href="#rpHead"/><use href="#rpRoll"/><use href="#rpNear"/></g>
<path d="M774.8,919.6 879.5,859.0 924.5,942.1 819.8,1002.7Z" fill="#e6e7e8"/>
<path d="M774.8,919.6 819.8,1002.7 817.6,1004.0 772.6,920.9Z" fill="#b2b2b2"/>
<use href="#rs" transform="translate(909,899.7) scale(-1.150,1.150)" color="#d0d2d3" style="--v:#58595b"/>
<path d="M1169.3,915.0 1204.8,932.0 1204.8,1017.6 1169.3,1001.4Z" fill="#f1f1f1"/>
<path d="M1151.0,806.3 1268.9,853.4 1232.3,944.9 1114.4,897.8Z" fill="#e6e7e8"/>
<path d="M1268.9,853.4 1232.3,944.9 1235.3,946.1 1271.9,854.6Z" fill="#c4c4c4"/>
<use href="#rs" transform="translate(1131.7,842.8) scale(1.200,1.200)" color="#fff" style="--v:#58595b"/>
<g transform="translate(1282,873.3) scale(-1.000,1.000)" color="#e6e7e8"><use href="#rpFarU"/><use href="#rpFarF" transform="rotate(-44 26.5 43.5)"/><use href="#rfLegs"/><use href="#rpTorso"/><use href="#rpHead"/><use href="#rfNear"/></g>
</g>
<rect x="696.3" y="1055.3" width="621.2" height="87.8" fill="#52aae3"/>
<text transform="translate(722.20,1110.2) scale(0.84,1)" font-size="33.43" font-weight="bold" fill="#fff" letter-spacing="1.158" stroke="#fff" stroke-width="0.2" stroke-linejoin="round">AUTONOMOUS CODING &amp; QA REVIEWS</text>
<text transform="translate(723.40,1182.6) scale(0.86,1)" font-size="30.38" font-weight="normal" fill="#21456b" letter-spacing="0.577">Coding, Testing &amp; Merging</text>
<g>
<text transform="translate(578.80,195.6) scale(0.89,1)" font-size="77.47" font-weight="normal" fill="#21456b" letter-spacing="4.298" stroke="#21456b" stroke-width="2.4" stroke-linejoin="round">AI-DRIVEN</text>
<text transform="translate(981.40,195.6) scale(0.89,1)" font-size="77.47" font-weight="normal" fill="#21456b" letter-spacing="0.487" stroke="#21456b" stroke-width="2.4" stroke-linejoin="round">SDLC</text>
<text transform="translate(1193.20,195.6) scale(0.89,1)" font-size="77.47" font-weight="normal" fill="#21456b" letter-spacing="1.551" stroke="#21456b" stroke-width="2.4" stroke-linejoin="round">VISION</text>
</g>
</svg></body></html>
